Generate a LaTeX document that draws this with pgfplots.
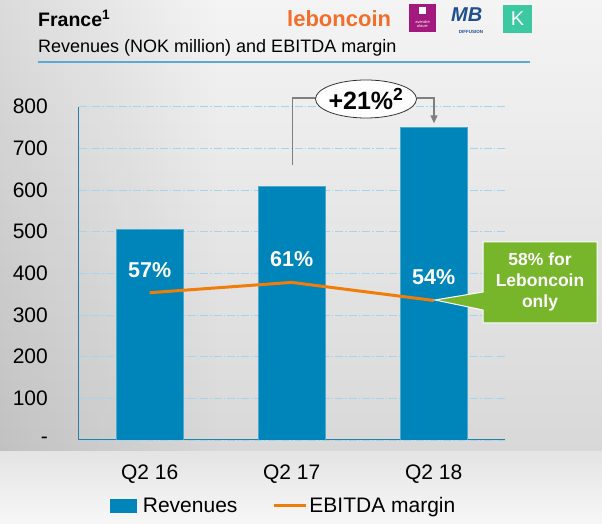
\documentclass[border=0pt]{standalone}
\usepackage{pgfplots}
\pgfplotsset{compat=1.18}
\usepackage{fontspec}
\setmainfont{Liberation Sans}
\usetikzlibrary{arrows.meta,fadings}
\definecolor{barblue}{HTML}{0085BA}
\definecolor{lineorange}{HTML}{F07D0A}
\definecolor{gridblue}{HTML}{A3D5EC}
\definecolor{axisblue}{HTML}{2A7FA8}
\definecolor{boxgreen}{HTML}{77B52B}
\definecolor{callgray}{HTML}{7F7F7F}
\definecolor{lbcorange}{HTML}{F36E2A}
\definecolor{logopurple}{HTML}{A3197E}
\definecolor{mbnavy}{HTML}{1E4F8F}
\definecolor{kteal}{HTML}{3CC9A2}
\definecolor{ruleblue}{HTML}{5AAAD8}
\definecolor{bgtop}{HTML}{F4F4F4}
\definecolor{bgbot}{HTML}{D8D8D8}
\definecolor{bandtop}{HTML}{E4E4E4}
\definecolor{bandbot}{HTML}{F7F7F7}

\pgfplotstableread{
x rev
0 505
1 608
2 750
}\revtable
\pgfplotstableread{
x margin
0 57
1 61
2 54
}\margintable

\begin{document}
\begin{tikzpicture}
% background
\begin{scope}[x=1pt,y=1pt]
\shade[top color=bgtop, bottom color=bgbot] (0,72) rectangle (602,524);
\fill[black, path fading=east, opacity=0.10] (0,72) rectangle (220,524);
\shade[top color=bandtop, bottom color=bandbot] (0,0) rectangle (602,72);
\end{scope}

\begin{axis}[
  at={(78.7pt,84pt)}, anchor=south west,
  scale only axis, width=426pt, height=333.3pt,
  xmin=-0.5, xmax=2.5, ymin=0, ymax=800,
  axis x line*=bottom, axis y line*=left,
  axis line style={axisblue, line width=1pt},
  major tick length=0pt,
  ytick={0,100,200,300,400,500,600,700,800},
  yticklabels={{-\hspace{12pt}},100,200,300,400,500,600,700,800},
  xtick={0,1,2},
  xticklabels={Q2 16,Q2 17,Q2 18},
  /pgf/number format/assume math mode=true,
  yticklabel style={font=\fontsize{21}{25}\selectfont, inner sep=0pt, anchor=east, xshift=-30.7pt},
  xticklabel style={font=\fontsize{21}{25}\selectfont, inner sep=0pt, anchor=north, yshift=-25pt},
  ymajorgrids,
  grid style={gridblue, line width=0.8pt, dash pattern=on 8pt off 2pt on 1.5pt off 2pt},
  legend style={at={(0.481,-0.198)}, anchor=center, draw=none, fill=none,
    font=\fontsize{21}{25}\selectfont, legend columns=2,
    /tikz/every even column/.append style={column sep=33pt}},
  legend cell align=left,
]
\addplot[ybar, bar width=67pt, bar shift=0pt, fill=barblue, draw=barblue!70!white, line width=0.5pt,
  legend image code/.code={\fill[barblue, draw=none] (0pt,-7pt) rectangle (27pt,7pt); \path[draw=none, fill=none] (0pt,0pt) -- (31pt,0pt);}]
  table[x=x, y=rev] {\revtable};
\addlegendentry{Revenues}
\addlegendimage{lineorange, line width=3pt,
  legend image code/.code={\draw[lineorange, line width=3pt] (0pt,0pt) -- (32pt,0pt);}}
\addlegendentry{EBITDA margin}
\end{axis}

\begin{axis}[
  at={(78.7pt,84pt)}, anchor=south west,
  scale only axis, width=426pt, height=333.3pt,
  xmin=-0.5, xmax=2.5, ymin=0, ymax=129,
  axis lines=none, ticks=none,
  /pgf/number format/assume math mode=true,
]
\addplot[lineorange, line width=3pt, no marks,
  nodes near coords={\pgfmathprintnumber{\pgfplotspointmeta}\%},
  every node near coord/.append style={font=\bfseries\fontsize{21.5}{25}\selectfont, text=white, anchor=center, yshift=23pt}]
  table[x=x, y=margin] {\margintable};
\end{axis}

\begin{scope}[x=1pt,y=1pt]
% title
\node[anchor=base west, inner sep=0] at (38,497) {\bfseries\fontsize{19.5}{22}\selectfont France\textsuperscript{1}};
\node[anchor=base west, inner sep=0] at (38,471) {\fontsize{18}{22}\selectfont Revenues (NOK million) and EBITDA margin};
\draw[ruleblue, line width=1.2pt] (38,462) -- (530,462);
% logos
\node[anchor=west, inner sep=0, text=lbcorange] at (287,505) {\bfseries\fontsize{22}{24}\selectfont leboncoin};
\fill[logopurple] (409,492) rectangle (436,520);
\fill[white] (419,510) rectangle (426,517);
\node[text=white, inner sep=0, align=center, font=\fontsize{4}{4.5}\selectfont] at (422.5,500) {avendre\\alouer};
\node[anchor=west, inner sep=0, text=mbnavy] at (451,509) {\bfseries\itshape\fontsize{20}{21}\selectfont MB};
\node[anchor=center, inner sep=0, text=mbnavy] at (471,492.5) {\bfseries\fontsize{4.5}{5}\selectfont DIFFUSION};
\fill[kteal] (503,491) rectangle (532,519);
\node[text=white, inner sep=0] at (517.5,505) {\fontsize{20}{20}\selectfont K};
% callout
\draw[callgray, line width=1.3pt] (292.7,359) -- (292.7,426) -- (315.7,426);
\draw[callgray, line width=1.3pt, -{Triangle[length=8pt,width=7pt]}] (416.7,426) -- (434,426) -- (434,400.7);
\draw[black!80, line width=0.8pt, fill=white] (366,425) ellipse [x radius=50.5pt, y radius=19pt];
\node[inner sep=0] at (366,425) {\bfseries\fontsize{25}{30}\selectfont +21\%\textsuperscript{2}};
% green box
\draw[white, line width=1pt, fill=boxgreen] (483,282) -- (597,282) -- (597,201) -- (483,201) -- (483,214) -- (435,224) -- (483,232) -- cycle;
\node[text=white, align=center, inner sep=0, font=\bfseries\fontsize{17.5}{21}\selectfont] at (540,242) {58\% for\\Leboncoin\\only};
\end{scope}

\pgfresetboundingbox
\path (0,0) rectangle (602pt,524pt);
\end{tikzpicture}
\end{document}
